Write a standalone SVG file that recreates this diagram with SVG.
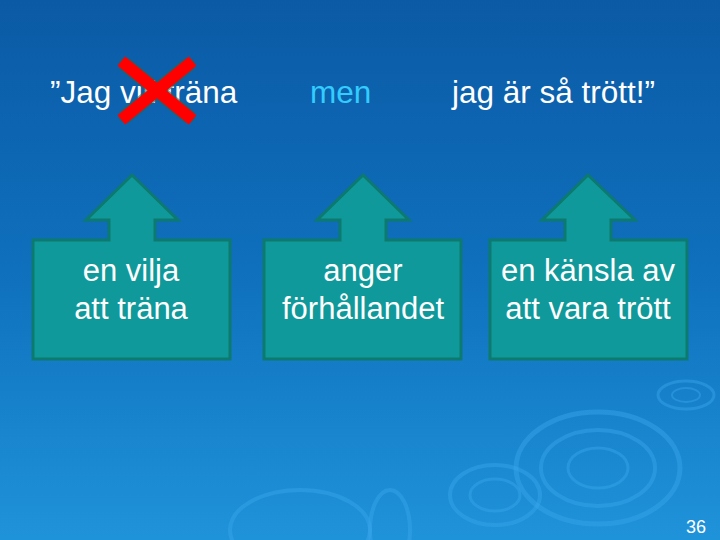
<svg xmlns="http://www.w3.org/2000/svg" width="720" height="540" viewBox="0 0 720 540">
<defs>
<linearGradient id="bg" x1="0" y1="0" x2="0" y2="1">
<stop offset="0" stop-color="#0b5aa5"/>
<stop offset="0.5" stop-color="#0f70bd"/>
<stop offset="1" stop-color="#1f93da"/>
</linearGradient>
<style>
.t{font-family:"Liberation Sans",Arial,sans-serif;font-size:31.5px;fill:#ffffff}
.b{font-family:"Liberation Sans",Arial,sans-serif;font-size:31px;fill:#ffffff;text-anchor:middle}
.box{fill:#10999a;stroke:#0c7a6e;stroke-width:3}
.rip{fill:none;stroke:#3aa6ec;stroke-opacity:0.45}
</style>
</defs>
<rect width="720" height="540" fill="url(#bg)"/>
<g id="ripples">
<ellipse class="rip" cx="598" cy="468" rx="82" ry="56" stroke-width="5"/>
<ellipse class="rip" cx="598" cy="468" rx="57" ry="38" stroke-width="4"/>
<ellipse class="rip" cx="598" cy="468" rx="30" ry="20" stroke-width="3"/>
<ellipse class="rip" cx="495" cy="495" rx="45" ry="30" stroke-width="4"/>
<ellipse class="rip" cx="495" cy="495" rx="25" ry="16" stroke-width="3"/>
<ellipse class="rip" cx="686" cy="395" rx="28" ry="14" stroke-width="3"/>
<ellipse class="rip" cx="686" cy="395" rx="14" ry="7" stroke-width="2"/>
<ellipse class="rip" cx="300" cy="530" rx="70" ry="40" stroke-width="4" stroke-opacity="0.25"/>
<ellipse class="rip" cx="390" cy="530" rx="20" ry="40" stroke-width="4" stroke-opacity="0.3"/>
</g>
<g id="top-text">
<text class="t" x="50" y="103">”Jag vill träna</text>
<text class="t" x="310" y="103" style="fill:#33ccff">men</text>
<text class="t" x="452" y="103">jag är så trött!”</text>
</g>
<g id="cross">
<path d="M126 65 L188 116 M188 65 L126 116" stroke="#1a6a5a" stroke-width="15" stroke-linecap="round" opacity="0.6"/>
<path d="M126 65 L188 116 M188 65 L126 116" stroke="#ff0000" stroke-width="12" stroke-linecap="square"/>
</g>
<g id="node1">
<path class="box" d="M132 175 L178 220 L155 220 L155 240 L230 240 L230 359 L33 359 L33 240 L109 240 L109 220 L86 220 Z"/>
<text class="b" x="131" y="281">en vilja</text>
<text class="b" x="131" y="319">att träna</text>
</g>
<g id="node2">
<path class="box" d="M363 175 L409 220 L386 220 L386 240 L461 240 L461 359 L264 359 L264 240 L340 240 L340 220 L317 220 Z"/>
<text class="b" x="363" y="281">anger</text>
<text class="b" x="363" y="319">förhållandet</text>
</g>
<g id="node3">
<path class="box" d="M588 175 L635 220 L611 220 L611 240 L687 240 L687 359 L490 359 L490 240 L565 240 L565 220 L542 220 Z"/>
<text class="b" x="588" y="281">en känsla av</text>
<text class="b" x="588" y="319">att vara trött</text>
</g>
<g id="connectors"></g>
<text x="706" y="533" style="font-family:'Liberation Sans',Arial,sans-serif;font-size:18px;fill:#ffffff;text-anchor:end">36</text>
</svg>
